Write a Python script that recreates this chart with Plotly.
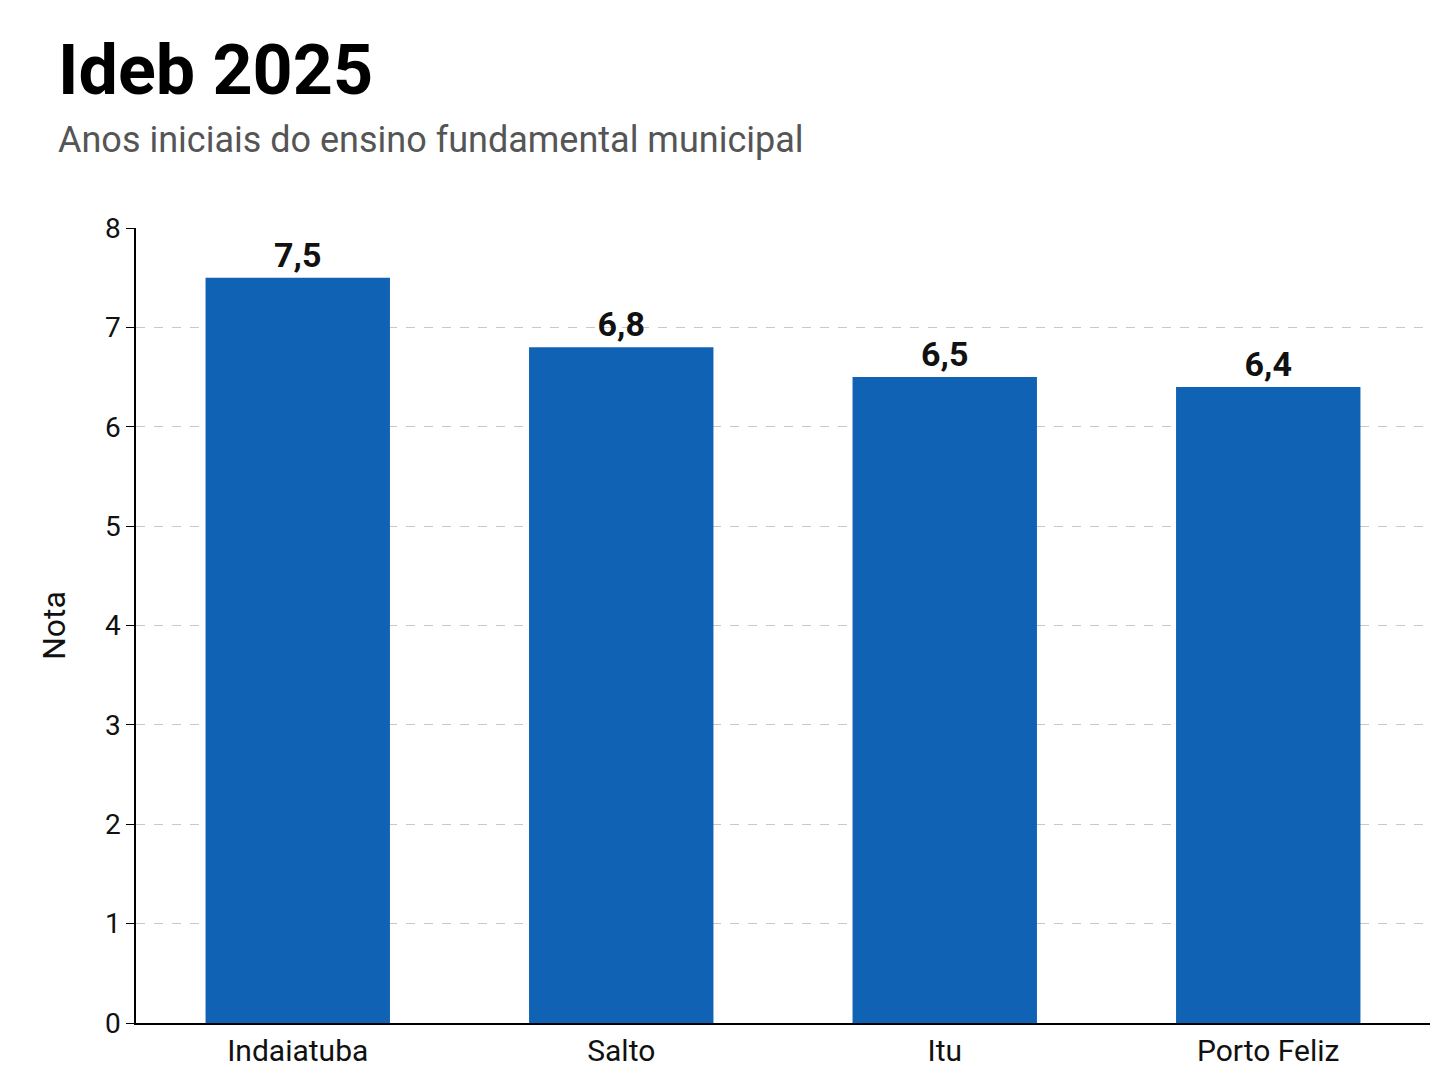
import plotly.graph_objects as go

cities = ["Indaiatuba", "Salto", "Itu", "Porto Feliz"]
notas = [7.5, 6.8, 6.5, 6.4]
labels = ["7,5", "6,8", "6,5", "6,4"]

fig = go.Figure(go.Bar(
    x=cities, y=notas, text=labels, textposition="outside",
    textfont=dict(family="Roboto", size=34, color="#111", weight="bold"),
    marker=dict(color="#0F62B4"), cliponaxis=False,
))
fig.update_layout(
    width=1448, height=1086, template="none",
    paper_bgcolor="white", plot_bgcolor="white",
    margin=dict(l=128, r=26, t=220, b=71),
    bargap=0.43, showlegend=False,
    font=dict(family="Roboto", color="#111"),
    annotations=[
        dict(text="<b>Ideb 2025</b>", x=48, y=1086-62, xref="paper", yref="paper",
             showarrow=False, font=dict(size=70, color="#000"), xanchor="left", yanchor="middle"),
        dict(text="Anos iniciais do ensino fundamental municipal", x=48, y=1086-132,
             xref="paper", yref="paper", showarrow=False,
             font=dict(size=36, color="#555"), xanchor="left", yanchor="middle"),
    ],
)
# convert pixel annotation positions to paper coords
pw, ph = 1448-128-26, 1086-220-71
for a in fig.layout.annotations:
    a.x = (a.x - 128) / pw
    a.y = (a.y - 71) / ph
fig.update_yaxes(range=[0, 8], dtick=1, showgrid=True, gridcolor="#c8c8c8", griddash="dash",
                 gridwidth=1, showline=True, linecolor="#000", linewidth=1.5,
                 ticks="outside", ticklen=8, tickcolor="#000", tickfont=dict(size=28),
                 title=dict(text="Nota", font=dict(size=32), standoff=30), zeroline=False)
fig.update_xaxes(showline=True, linecolor="#000", linewidth=1.5, showgrid=False,
                 tickfont=dict(size=30), ticks="")
fig.write_html("out.html")
